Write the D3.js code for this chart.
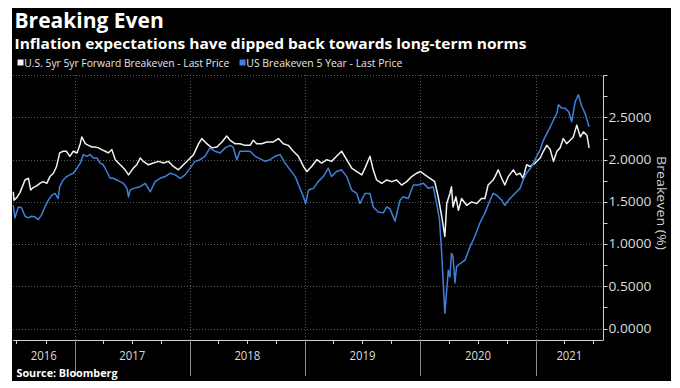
<!DOCTYPE html>
<html><head><meta charset="utf-8">
<script src="https://cdn.jsdelivr.net/npm/d3@7/dist/d3.min.js"></script>
<style>body{margin:0;background:#fff}svg{display:block}</style>
</head><body><svg id="c" width="680" height="388"></svg>
<script>
// ---------- DATA ----------
const titleText = "Breaking Even";
const subtitleText = "Inflation expectations have dipped back towards long-term norms";
const seriesNames = ["U.S. 5yr 5yr Forward Breakeven - Last Price", "US Breakeven 5 Year - Last Price"];
const sourceText = "Source: Bloomberg";
const yAxisTitle = "Breakeven (%)";
const yTickValues = [0, 0.5, 1, 1.5, 2, 2.5];
const yMinorTicks = [0, 0.25, 0.5, 0.75, 1, 1.25, 1.5, 1.75, 2, 2.25, 2.5, 2.75, 3];
const yearLabels = ["2016", "2017", "2018", "2019", "2020", "2021"];

const whiteDates = [
"2016-06-21","2016-06-23","2016-07-02","2016-07-12","2016-07-28","2016-08-08","2016-08-15","2016-08-23","2016-09-03","2016-09-13","2016-09-24","2016-10-05","2016-10-15","2016-10-26","2016-11-05","2016-11-15","2016-11-26","2016-12-06","2016-12-17","2016-12-28",
"2017-01-09","2017-01-19","2017-01-24","2017-02-04","2017-02-14","2017-02-25","2017-03-07","2017-03-18","2017-03-28","2017-04-08","2017-04-18","2017-04-29","2017-05-10","2017-05-20","2017-05-31","2017-06-10","2017-06-21","2017-07-06","2017-07-17","2017-07-28","2017-08-07","2017-08-23","2017-09-08","2017-09-24","2017-10-10","2017-10-25","2017-11-10","2017-11-26","2017-12-12","2017-12-28",
"2018-01-13","2018-01-29","2018-02-08","2018-02-24","2018-03-12","2018-03-28","2018-04-13","2018-04-28","2018-05-09","2018-05-24","2018-06-09","2018-06-25","2018-07-11","2018-07-21","2018-08-01","2018-08-17","2018-09-02","2018-09-23","2018-10-09","2018-10-24","2018-11-09","2018-11-25","2018-12-11","2018-12-27",
"2019-01-07","2019-01-22","2019-02-07","2019-02-23","2019-03-11","2019-03-26","2019-04-11","2019-04-27","2019-05-13","2019-05-29","2019-06-14","2019-06-30","2019-07-10","2019-07-26","2019-08-05","2019-08-16","2019-09-01","2019-09-17","2019-10-03","2019-10-18","2019-11-03","2019-11-19","2019-12-05","2019-12-21",
"2020-01-02","2020-01-16","2020-02-01","2020-02-16","2020-02-27","2020-03-09","2020-03-19","2020-03-25","2020-04-04","2020-04-09","2020-04-14","2020-04-23","2020-05-01","2020-05-11","2020-05-27","2020-06-12","2020-06-28","2020-07-13","2020-07-24","2020-08-03","2020-08-19","2020-08-25","2020-09-04","2020-09-15","2020-09-25","2020-10-06","2020-10-22","2020-11-01","2020-11-12","2020-11-22","2020-12-03","2020-12-14","2020-12-30",
"2021-01-15","2021-01-25","2021-02-05","2021-02-16","2021-02-26","2021-03-09","2021-03-19","2021-03-29","2021-04-09","2021-04-20","2021-04-30","2021-05-11","2021-05-22","2021-06-01","2021-06-12","2021-06-19"];
const whiteValues = [
1.62,1.52,1.55,1.61,1.76,1.78,1.64,1.67,1.69,1.72,1.74,1.72,1.80,1.84,1.92,2.08,2.10,2.10,2.04,2.10,
2.08,2.19,2.27,2.19,2.17,2.15,2.15,2.14,2.12,2.10,2.08,2.12,2.00,1.96,1.92,1.88,1.82,1.90,1.94,2.02,1.98,1.94,1.96,1.98,1.96,1.98,1.92,1.88,1.94,2.00,
2.06,2.19,2.25,2.19,2.14,2.15,2.21,2.28,2.23,2.19,2.19,2.17,2.17,2.23,2.19,2.19,2.21,2.21,2.25,2.19,2.17,2.10,2.04,1.92,
1.86,1.92,2.00,1.96,2.00,1.98,2.04,2.10,2.00,1.90,1.86,1.82,1.90,2.04,1.88,1.76,1.72,1.76,1.74,1.76,1.70,1.74,1.80,1.84,
1.86,1.82,1.78,1.74,1.56,1.33,1.09,1.48,1.60,1.68,1.44,1.56,1.40,1.54,1.46,1.50,1.48,1.54,1.54,1.70,1.76,1.80,1.88,1.78,1.70,1.80,1.88,1.82,1.84,1.78,1.94,1.92,1.96,
2.02,2.10,2.17,2.12,1.98,2.10,2.14,2.25,2.19,2.23,2.27,2.41,2.27,2.33,2.29,2.14];

const blueDates = [
"2016-06-21","2016-06-26","2016-07-07","2016-07-17","2016-07-28","2016-08-08","2016-08-18","2016-08-29","2016-09-08","2016-09-19","2016-09-29","2016-10-10","2016-10-21","2016-10-31","2016-11-10","2016-11-15","2016-11-26","2016-12-07","2016-12-17","2016-12-28",
"2017-01-09","2017-01-19","2017-01-29","2017-02-09","2017-02-19","2017-03-02","2017-03-13","2017-03-23","2017-04-02","2017-04-13","2017-04-24","2017-05-04","2017-05-15","2017-05-25","2017-06-05","2017-06-16","2017-06-21","2017-06-26","2017-07-07","2017-07-28","2017-08-13","2017-08-29","2017-09-13","2017-09-29","2017-10-15","2017-10-31","2017-11-16","2017-12-02","2017-12-17",
"2018-01-02","2018-01-18","2018-02-03","2018-02-18","2018-03-06","2018-03-22","2018-04-07","2018-04-23","2018-05-09","2018-05-18","2018-05-30","2018-06-09","2018-06-25","2018-07-11","2018-07-27","2018-08-12","2018-08-28","2018-09-12","2018-09-28","2018-10-14","2018-10-30","2018-11-15","2018-12-01","2018-12-16","2018-12-27",
"2019-01-03","2019-01-12","2019-01-28","2019-02-12","2019-02-28","2019-03-16","2019-03-26","2019-04-11","2019-04-27","2019-05-13","2019-05-29","2019-06-14","2019-06-24","2019-07-10","2019-07-26","2019-08-05","2019-08-21","2019-09-06","2019-09-17","2019-09-27","2019-10-13","2019-10-29","2019-11-08","2019-11-24","2019-12-10","2019-12-26",
"2020-01-11","2020-01-27","2020-02-11","2020-02-22","2020-03-02","2020-03-09","2020-03-14","2020-03-19","2020-03-25","2020-03-30","2020-04-04","2020-04-09","2020-04-14","2020-04-20","2020-04-25","2020-05-06","2020-05-22","2020-06-07","2020-06-22","2020-07-08","2020-07-24","2020-08-09","2020-08-19","2020-08-30","2020-09-15","2020-09-25","2020-10-11","2020-10-27","2020-11-12","2020-11-22","2020-12-03","2020-12-19",
"2021-01-04","2021-01-15","2021-01-25","2021-02-05","2021-02-16","2021-02-26","2021-03-09","2021-03-14","2021-03-25","2021-04-04","2021-04-15","2021-04-25","2021-05-06","2021-05-16","2021-05-27","2021-06-06","2021-06-19"];
const blueValues = [
1.46,1.31,1.44,1.43,1.33,1.31,1.33,1.32,1.29,1.35,1.44,1.52,1.58,1.60,1.54,1.68,1.76,1.80,1.82,1.84,
1.90,1.96,2.06,2.04,2.06,2.02,2.02,1.96,1.94,1.86,1.78,1.78,1.76,1.74,1.72,1.66,1.56,1.64,1.66,1.68,1.72,1.62,1.74,1.78,1.80,1.84,1.82,1.78,1.82,
1.90,1.98,2.00,2.04,2.14,2.10,2.08,2.14,2.17,2.15,2.00,2.10,2.10,2.10,2.04,2.01,1.98,2.00,2.04,2.06,1.96,1.88,1.80,1.66,1.56,
1.48,1.64,1.66,1.74,1.80,1.90,1.80,1.86,1.88,1.80,1.64,1.60,1.48,1.60,1.60,1.44,1.38,1.37,1.44,1.42,1.27,1.52,1.56,1.54,1.70,1.70,
1.72,1.66,1.68,1.48,1.29,0.89,0.54,0.18,0.46,0.69,0.61,0.89,0.85,0.54,0.73,0.77,0.81,0.97,1.09,1.25,1.37,1.52,1.60,1.58,1.52,1.46,1.54,1.60,1.66,1.76,1.84,1.92,
2.04,2.12,2.23,2.31,2.39,2.47,2.55,2.65,2.61,2.61,2.57,2.45,2.69,2.77,2.63,2.55,2.39];

// ---------- LAYOUT ----------
const W = 680, H = 388;
const panel = {x: 12, y: 8, w: 659, h: 373};
const plot = {left: 13, right: 603, top: 75, bottom: 340};
const FONT = "'Open Sans', 'DejaVu Sans', sans-serif";
const whiteColor = "#f2f2f2", blueColor = "#4080dc";

const parse = d3.timeParse("%Y-%m-%d");
const whiteData = whiteDates.map((d, i) => ({date: parse(d), v: whiteValues[i]}));
const blueData = blueDates.map((d, i) => ({date: parse(d), v: blueValues[i]}));

const x = d3.scaleTime().domain([new Date(2016, 5, 20), new Date(2021, 7, 2)]).range([plot.left, plot.right]);
const y = d3.scaleLinear().domain([0, 3]).range([328.5, 75.3]);

const svg = d3.select("#c");
svg.append("rect").attr("x", panel.x).attr("y", panel.y).attr("width", panel.w).attr("height", panel.h).attr("fill", "#000");

function fit(sel, w) {
  const L = sel.node().getComputedTextLength();
  if (Math.abs(L - w) > 1) sel.attr("textLength", w).attr("lengthAdjust", "spacingAndGlyphs");
  return sel;
}

// titles
fit(svg.append("text").attr("x", 14.5).attr("y", 28).attr("fill", "#fff")
  .style("font", `bold 21px ${FONT}`).text(titleText), 150);
fit(svg.append("text").attr("x", 14.5).attr("y", 49).attr("fill", "#fff")
  .style("font", `bold 15px ${FONT}`).text(subtitleText), 512);

// legend
const leg = [{x: 17.5, tx: 24.3, w: 205, c: whiteColor}, {x: 239.5, tx: 246.3, w: 156, c: blueColor}];
leg.forEach((l, i) => {
  svg.append("rect").attr("x", l.x).attr("y", 59.5).attr("width", 6).attr("height", 6).attr("fill", l.c);
  fit(svg.append("text").attr("x", l.tx).attr("y", 66.5).attr("fill", "#e6e6e6")
    .style("font", `10.5px ${FONT}`).text(seriesNames[i]), l.w);
});

// grid
const years = d3.timeYear.range(new Date(2017, 0, 1), new Date(2021, 1, 1));
const grid = svg.append("g").attr("stroke", "#5a5a5a").attr("stroke-width", 1).attr("stroke-dasharray", "1,2");
grid.selectAll("line.h").data(yTickValues.concat([3])).join("line")
  .attr("x1", plot.left).attr("x2", plot.right)
  .attr("y1", d => Math.round(y(d)) + 0.5).attr("y2", d => Math.round(y(d)) + 0.5);
grid.selectAll("line.v").data(years).join("line")
  .attr("y1", plot.top).attr("y2", plot.bottom)
  .attr("x1", d => Math.round(x(d)) + 0.5).attr("x2", d => Math.round(x(d)) + 0.5);

// lines
const line = d3.line().x(d => x(d.date)).y(d => y(d.v));
svg.append("path").datum(whiteData).attr("d", line).attr("fill", "none")
  .attr("stroke", whiteColor).attr("stroke-width", 1.5).attr("stroke-linejoin", "round");
svg.append("path").datum(blueData).attr("d", line).attr("fill", "none")
  .attr("stroke", blueColor).attr("stroke-width", 1.5).attr("stroke-linejoin", "round");

// y axis (right)
const yAxis = svg.append("g").attr("transform", `translate(${plot.right + 0.5},0)`);
yAxis.append("line").attr("y1", y(3)).attr("y2", plot.bottom).attr("stroke", "#d0d0d0");
yAxis.selectAll("line.t").data(yMinorTicks).join("line")
  .attr("x1", 0).attr("x2", 4)
  .attr("y1", d => Math.round(y(d)) + 0.5).attr("y2", d => Math.round(y(d)) + 0.5)
  .attr("stroke", "#d0d0d0");
yAxis.selectAll("text").data(yTickValues).join("text")
  .attr("x", 5).attr("y", d => y(d)).attr("dy", "0.36em")
  .attr("fill", "#dcdcdc").style("font", `12px ${FONT}`)
  .text(d => d3.format(".4f")(d))
  .each(function() { fit(d3.select(this), 43); });
const yt = svg.append("text").attr("transform", `translate(657,${203}) rotate(90)`)
  .attr("text-anchor", "middle").attr("fill", "#d0d0d0").style("font", `13.5px ${FONT}`).text(yAxisTitle);
fit(yt, 94);

// x axis
const xg = svg.append("g");
xg.append("line").attr("x1", plot.left).attr("x2", plot.right + 0.5)
  .attr("y1", plot.bottom + 0.5).attr("y2", plot.bottom + 0.5).attr("stroke", "#d0d0d0");
const quarters = d3.timeMonth.every(3).range(new Date(2016, 6, 1), new Date(2021, 7, 1));
xg.selectAll("line.q").data(quarters).join("line")
  .attr("x1", d => Math.round(x(d)) + 0.5).attr("x2", d => Math.round(x(d)) + 0.5)
  .attr("y1", plot.bottom).attr("y2", plot.bottom + 4).attr("stroke", "#d0d0d0");
xg.selectAll("line.y").data(years).join("line")
  .attr("x1", d => Math.round(x(d)) + 0.5).attr("x2", d => Math.round(x(d)) + 0.5)
  .attr("y1", plot.bottom).attr("y2", 376).attr("stroke", "#8a8a8a");
const yearStarts = yearLabels.map(s => new Date(+s, 0, 1));
xg.selectAll("text").data(yearLabels).join("text")
  .attr("x", (d, i) => {
    const a = Math.max(plot.left, x(yearStarts[i]));
    const b = Math.min(plot.right, x(new Date(+d + 1, 0, 1)));
    return (a + b) / 2;
  })
  .attr("y", 360).attr("text-anchor", "middle").attr("fill", "#dcdcdc")
  .style("font", `12px ${FONT}`).text(d => d)
  .each(function() { fit(d3.select(this), 26); });

// source
fit(svg.append("text").attr("x", 16.5).attr("y", 377).attr("fill", "#fff")
  .style("font", `bold 10.5px ${FONT}`).text(sourceText), 101);
</script></body></html>
